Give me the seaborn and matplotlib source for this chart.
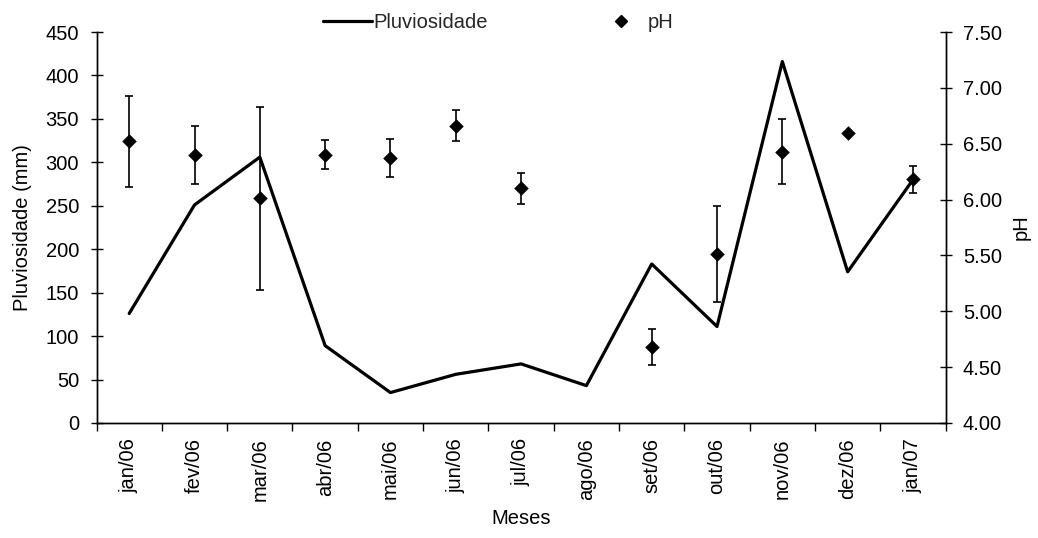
import numpy as np
import pandas as pd
import matplotlib
matplotlib.use("Agg")
import matplotlib.pyplot as plt
import seaborn as sns
from matplotlib.lines import Line2D

sns.set_theme(style="white")
plt.rcParams['font.family'] = ['Liberation Sans', 'DejaVu Sans']

meses = ["jan/06", "fev/06", "mar/06", "abr/06", "mai/06", "jun/06", "jul/06",
         "ago/06", "set/06", "out/06", "nov/06", "dez/06", "jan/07"]
pluviosidade = [126, 251, 306, 89, 35, 56, 68, 43, 183, 111, 416, 174, 280]
ph = [6.52, 6.40, 6.01, 6.40, 6.37, 6.66, 6.10, np.nan, 4.68, 5.51, 6.43, 6.60, 6.18]
ph_err = [0.41, 0.26, 0.82, 0.13, 0.17, 0.14, 0.14, np.nan, 0.16, 0.43, 0.29, 0.0, 0.12]

pos = np.arange(len(meses))
df = pd.DataFrame({"pos": pos, "mes": meses, "chuva": pluviosidade, "ph": ph, "err": ph_err})

fig = plt.figure(figsize=(10.38, 5.38), dpi=100)
ax = fig.add_axes([0.093, 0.2138, 0.818, 0.7267])
ax2 = ax.twinx()

sns.lineplot(data=df, x="pos", y="chuva", ax=ax, color="black", linewidth=2.3,
             legend=False)
dph = df.dropna()
ax2.errorbar(dph["pos"], dph["ph"], yerr=dph["err"], fmt="none", ecolor="black",
             elinewidth=1.2, capsize=3.2, capthick=1.2)
sns.scatterplot(data=dph, x="pos", y="ph", ax=ax2, marker="D", color="black",
                s=55, edgecolor="black", linewidth=0, legend=False, zorder=5)

ax.set_xlim(-0.5, len(meses) - 0.5)
ax.set_ylim(0, 450)
ax.set_yticks(np.arange(0, 451, 50))
ax2.set_ylim(4.0, 7.5)
ax2.set_yticks(np.arange(4.0, 7.51, 0.5))
ax2.set_yticklabels([f"{v:.2f}" for v in np.arange(4.0, 7.51, 0.5)])

ax.set_xticks(pos)
ax.set_xticklabels(meses, rotation=90)
ax.set_xticks(np.arange(-0.5, len(meses), 1.0), minor=True)
ax.tick_params(axis="x", which="major", length=0, pad=11)
ax.tick_params(axis="x", which="minor", length=6, width=1, direction="out", color="black", bottom=True)
ax.tick_params(axis="y", length=9, width=1, direction="inout", color="black", left=True, pad=8)
ax2.tick_params(axis="y", length=9, width=1, direction="inout", color="black", right=True, pad=8)

fs = 14.5
for lab in ax.get_xticklabels() + ax.get_yticklabels() + ax2.get_yticklabels():
    lab.set_fontsize(fs)
    lab.set_color("black")

ax.set_xlabel("Meses", fontsize=fs, color="black", labelpad=6)
ax.set_ylabel("Pluviosidade (mm)", fontsize=fs, color="black", labelpad=10)
ax2.set_ylabel("pH", fontsize=fs, color="black", labelpad=7)

for a in (ax, ax2):
    a.spines["top"].set_visible(False)
    for side in ("left", "right", "bottom"):
        a.spines[side].set_color("black")
        a.spines[side].set_linewidth(1)
    a.grid(False)

handles = [Line2D([], [], color="black", linewidth=2.3),
           Line2D([], [], color="black", marker="D", linestyle="none", markersize=6)]
fig.legend(handles, ["Pluviosidade", "pH"], loc="center", bbox_to_anchor=(0.48, 0.958),
           ncol=2, frameon=False, fontsize=fs, handlelength=2.4, handletextpad=0.1,
           columnspacing=5.4)

fig.savefig("out.png", dpi=100, facecolor="white")
